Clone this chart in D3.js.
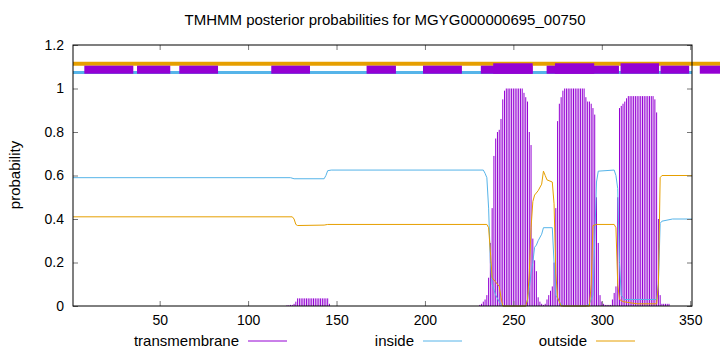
<!DOCTYPE html>
<html lang="en">
<head>
<meta charset="utf-8">
<title>TMHMM posterior probabilities</title>
<script src="https://d3js.org/d3.v7.min.js"></script>
<style>
  body { margin: 0; background: #fff; }
  text { font-family: "Liberation Sans", Arial, sans-serif; fill: #000; }
</style>
</head>
<body>
<script>

// chart values
var title = "TMHMM posterior probabilities for MGYG000000695_00750";
var xTicks = [50, 100, 150, 200, 250, 300, 350];
var yTicks = [0, 0.2, 0.4, 0.6, 0.8, 1, 1.2];
var yTickLabels = ["0", "0.2", "0.4", "0.6", "0.8", "1", "1.2"];
var legendNames = ["transmembrane", "inside", "outside"];

// [position, probability] breakpoints of the inside / outside curves
var insidePts = [[1,0.59],[124,0.59],[126,0.585],[143,0.585],[144,0.6],[145,0.622],[147,0.625],
  [233,0.625],[234,0.61],[235,0.59],[236,0.45],[237,0.2],[238,0.1],[240,0.05],[242,0.02],[244,0],
  [257,0],[258,0.03],[259,0.08],[260,0.15],[261,0.2],[262,0.27],[263,0.28],[264,0.3],[266,0.33],
  [267,0.36],[272,0.36],[273,0.2],[274,0.05],[276,0.02],[278,0],[291,0],[293,0.01],[295,0.05],
  [296,0.3],[297,0.57],[298,0.62],[307,0.625],[308,0.6],[309,0.54],[310,0.2],[311,0.05],[313,0.03],
  [331,0.03],[332,0.1],[333,0.38],[334,0.39],[340,0.4],[351,0.4]];

var outsidePts = [[1,0.41],[125,0.41],[126,0.4],[127,0.375],[128,0.37],[143,0.372],[145,0.375],
  [235,0.375],[236,0.36],[237,0.25],[238,0.13],[240,0.11],[242,0.09],[243,0.04],[244,0],
  [257,0],[258,0.03],[259,0.15],[260,0.36],[261,0.48],[262,0.51],[264,0.53],[266,0.56],[267,0.62],
  [268,0.6],[269,0.58],[272,0.57],[273,0.47],[274,0.15],[275,0.04],[277,0],[293,0],[294,0.1],
  [295,0.37],[297,0.375],[307,0.375],[308,0.36],[309,0.1],[310,0.03],[312,0.02],[320,0.01],
  [331,0.01],[332,0.1],[333,0.59],[334,0.6],[351,0.6]];

// transmembrane impulses, one per residue (zero residues left out)
var tmBars = [[122,0.003],[123,0.003],[124,0.005],[125,0.005],[126,0.01],[127,0.02],
  [128,0.035],[129,0.035],[130,0.035],[131,0.035],[132,0.035],[133,0.035],[134,0.035],[135,0.035],
  [136,0.035],[137,0.035],[138,0.035],[139,0.035],[140,0.035],[141,0.035],[142,0.035],[143,0.035],
  [144,0.035],[145,0.035],[146,0.01],
  [231,0.005],[232,0.01],[233,0.02],[234,0.03],[235,0.05],[236,0.13],[237,0.29],[238,0.45],
  [239,0.69],[240,0.77],[241,0.8],[242,0.81],[243,0.86],[244,0.95],[245,0.99],
  [246,1],[247,1],[248,1],[249,1],[250,1],[251,1],[252,1],[253,1],[254,1],[255,1],
  [256,0.98],[257,0.96],[258,0.94],[259,0.8],[260,0.74],[261,0.31],[262,0.21],[263,0.16],
  [264,0.04],[265,0.02],[266,0.01],[267,0.005],[268,0.01],[269,0.03],[270,0.05],[271,0.07],
  [272,0.09],[273,0.2],[274,0.45],[275,0.85],[276,0.93],[277,0.96],[278,0.99],
  [279,1],[280,1],[281,1],[282,1],[283,1],[284,1],[285,1],[286,1],[287,1],[288,1],[289,1],[290,1],
  [291,0.96],[292,0.94],[293,0.94],[294,0.93],[295,0.91],[296,0.88],[297,0.5],[298,0.29],
  [299,0.05],[300,0.02],[301,0.01],[302,0.005],[303,0.005],[304,0.005],[305,0.005],
  [306,0.03],[307,0.06],[308,0.09],[309,0.5],[310,0.91],[311,0.92],[312,0.93],[313,0.94],[314,0.955],
  [315,0.965],[316,0.965],[317,0.965],[318,0.965],[319,0.965],[320,0.965],[321,0.965],[322,0.965],
  [323,0.965],[324,0.965],[325,0.965],[326,0.965],[327,0.965],[328,0.965],[329,0.965],
  [330,0.95],[331,0.89],[332,0.4],[333,0.05],[334,0.01],[335,0.01],[336,0.01],[337,0.01],[338,0.01]];

// segments of the topology strip at the top: [start, end, tall]
var topSegs = [[7.4,35.1,0],[37.2,56,0],[61.1,83,0],[113.1,135,0],[167,183.6,0],[198.9,220.9,0],
  [231.6,260.9,0],[238.6,260.9,1],[268.8,309.7,0],[273.5,295.7,1],[310.6,332.4,1],
  [333.2,349.4,0],[355.4,367,0]];

var colTM = "#9400d3", colIn = "#56b4e9", colOut = "#e69f00";

var W = 720, H = 352;
var svg = d3.select("body").append("svg")
    .attr("width", W)
    .attr("height", H);

var x = d3.scaleLinear().domain([1, 351]).range([73, 692]);
var y = d3.scaleLinear().domain([0, 1.2]).range([306, 45]);

// title
svg.append("text")
    .attr("x", 385).attr("y", 25)
    .attr("text-anchor", "middle")
    .style("font-size", "15px")
    .text(title);

// y label
svg.append("text")
    .attr("transform", "translate(20,175) rotate(-90)")
    .attr("text-anchor", "middle")
    .style("font-size", "15px")
    .text("probability");

// top strip
svg.append("line")
    .attr("x1", x(1)).attr("x2", W)
    .attr("y1", y(1.114)).attr("y2", y(1.114))
    .attr("stroke", colOut).attr("stroke-width", 4);
svg.append("line")
    .attr("x1", x(1)).attr("x2", x(351))
    .attr("y1", y(1.074)).attr("y2", y(1.074))
    .attr("stroke", colIn).attr("stroke-width", 3);
svg.selectAll("rect.seg").data(topSegs).enter().append("rect")
    .attr("class", "seg")
    .attr("x", d => x(d[0]))
    .attr("width", d => x(d[1]) - x(d[0]))
    .attr("y", d => d[2] ? y(1.116) : y(1.105))
    .attr("height", d => d[2] ? y(1.068) - y(1.116) : y(1.068) - y(1.105))
    .attr("fill", colTM);

// impulses
svg.selectAll("line.tm").data(tmBars).enter().append("line")
    .attr("class", "tm")
    .attr("x1", d => x(d[0])).attr("x2", d => x(d[0]))
    .attr("y1", y(0)).attr("y2", d => y(d[1]))
    .attr("stroke", colTM).attr("stroke-width", 1);

var line = d3.line().x(d => x(d[0])).y(d => y(d[1]));

svg.append("path").datum(insidePts)
    .attr("d", line).attr("fill", "none")
    .attr("stroke", colIn).attr("stroke-width", 1);
svg.append("path").datum(outsidePts)
    .attr("d", line).attr("fill", "none")
    .attr("stroke", colOut).attr("stroke-width", 1);

// axes (gnuplot style: inward ticks on all sides)
svg.append("g").attr("transform", "translate(0," + y(0) + ")")
    .call(d3.axisBottom(x).tickValues(xTicks).tickSize(-5).tickPadding(9));
svg.append("g").attr("transform", "translate(0," + y(1.2) + ")")
    .call(d3.axisTop(x).tickValues(xTicks).tickSize(-5).tickFormat(""));
svg.append("g").attr("transform", "translate(" + x(1) + ",0)")
    .call(d3.axisLeft(y).tickValues(yTicks).tickSize(-5).tickPadding(9)
      .tickFormat((d, i) => yTickLabels[i]));
svg.append("g").attr("transform", "translate(" + x(351) + ",0)")
    .call(d3.axisRight(y).tickValues(yTicks).tickSize(-5).tickFormat(""));

svg.selectAll(".domain").remove();
svg.selectAll(".tick line").attr("stroke", "#777");
svg.selectAll(".tick text").style("font-size", "14px").attr("fill", "#000");

svg.append("rect")
    .attr("x", x(1)).attr("y", y(1.2))
    .attr("width", x(351) - x(1)).attr("height", y(0) - y(1.2))
    .attr("fill", "none").attr("stroke", "#000").attr("stroke-width", 1);

// legend
var legX = [239, 414, 587];
var legCol = [colTM, colIn, colOut];
legendNames.forEach(function(n, i) {
  svg.append("text")
      .attr("x", legX[i]).attr("y", 346)
      .attr("text-anchor", "end")
      .style("font-size", "15px")
      .text(n);
  svg.append("line")
      .attr("x1", legX[i] + 9).attr("x2", legX[i] + 48)
      .attr("y1", 341).attr("y2", 341)
      .attr("stroke", legCol[i]).attr("stroke-width", 1);
});

</script>
</body>
</html>
